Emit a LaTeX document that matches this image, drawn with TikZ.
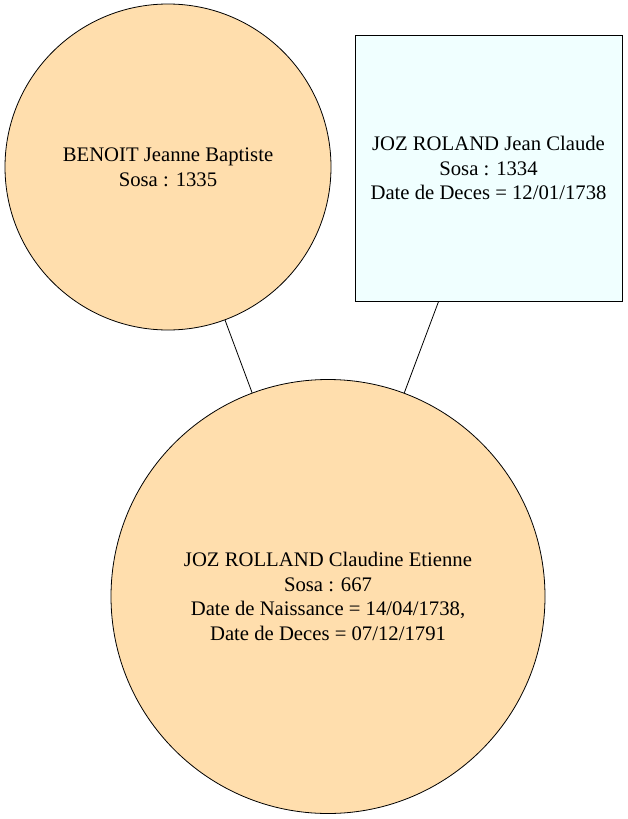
\documentclass[tikz,border=0pt]{standalone}
\usepackage{fontspec}
\setmainfont{Liberation Serif}
\definecolor{peach}{HTML}{FFDEAD}
\definecolor{azurebox}{HTML}{F0FFFF}
\begin{document}
\begin{tikzpicture}[x=1pt,y=-1pt,
  person/.style={draw=black,line width=0.8pt,fill=peach,circle,inner sep=0pt,align=center,
    font=\fontsize{20.7}{24.7}\selectfont},
  personbox/.style={draw=black,line width=0.8pt,fill=azurebox,rectangle,inner sep=0pt,align=center,
    font=\fontsize{20.7}{24.7}\selectfont},
  link/.style={draw=black,line width=0.8pt}]
\useasboundingbox (0,0) rectangle (627,819);
\node[person,minimum size=326pt] (a) at (168,167) {BENOIT Jeanne Baptiste\\Sosa : 1335};
\node[personbox,minimum width=267pt,minimum height=266pt] (b) at (488.5,168) {JOZ ROLAND Jean Claude\\Sosa : 1334\\Date de Deces = 12/01/1738};
\node[person,minimum size=434pt] (c) at (328,596.5) {JOZ ROLLAND Claudine Etienne\\Sosa : 667\\Date de Naissance = 14/04/1738,\\Date de Deces = 07/12/1791};
\draw[link] (a) -- (c);
\draw[link] (b) -- (c);
\end{tikzpicture}
\end{document}
